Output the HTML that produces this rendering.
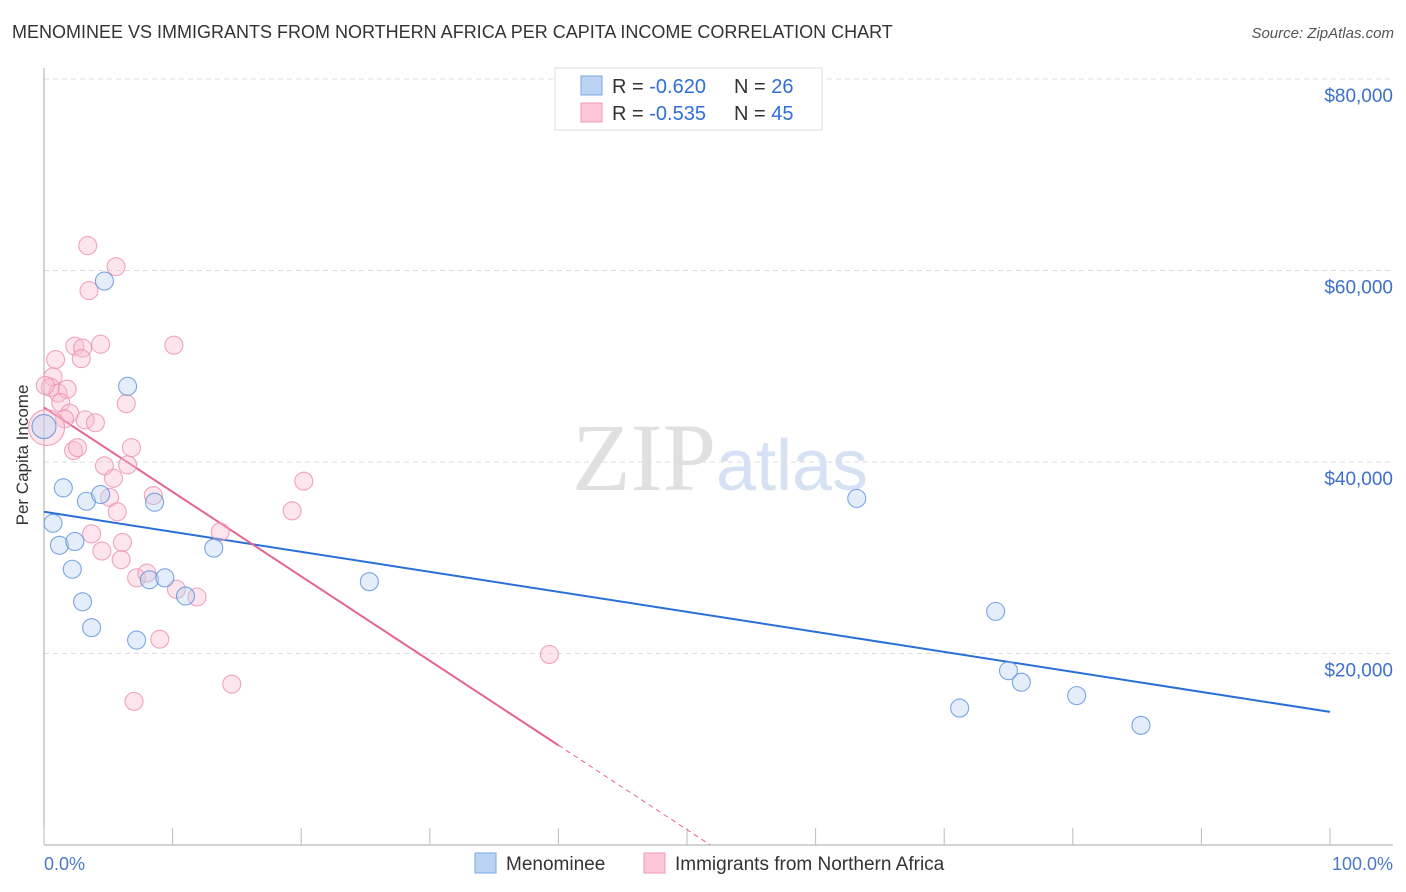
<!DOCTYPE html>
<html><head><meta charset="utf-8">
<style>
body{margin:0;background:#fff;font-family:"Liberation Sans",sans-serif;}
#wrap{position:relative;width:1406px;height:892px;overflow:hidden;}
.t{position:absolute;white-space:nowrap;}
</style></head>
<body>
<div id="wrap">
<div class="t" style="left:12px;top:22px;font-size:18px;color:#333;">MENOMINEE VS IMMIGRANTS FROM NORTHERN AFRICA PER CAPITA INCOME CORRELATION CHART</div>
<div class="t" style="right:12px;top:25px;font-size:15px;color:#555;font-style:italic;">Source: ZipAtlas.com</div>
<svg id="chart" width="1406" height="892" style="position:absolute;left:0;top:0">
<text x="720" y="490" text-anchor="middle" font-size="96" font-family="Liberation Serif,serif" fill="#e0e0e0"><tspan fill="#e0e0e0">ZIP</tspan><tspan font-family="Liberation Sans,sans-serif" font-size="72" fill="#d6e2f3">atlas</tspan></text>
<g id="grid"></g><g id="axes"></g><g id="lines"></g><g id="pts"></g>
<text x="28" y="455" transform="rotate(-90 28 455)" text-anchor="middle" font-size="17" fill="#333">Per Capita Income</text>
<text x="44" y="870" font-size="18" fill="#4a78c8">0.0%</text>
<text x="1393" y="870" text-anchor="end" font-size="18" fill="#4a78c8">100.0%</text>
<g>
<rect x="555" y="68" width="267" height="62" fill="#fff" stroke="#ddd"/>
<rect x="581" y="76" width="21" height="19" fill="#bcd4f4" stroke="#7aa6e0"/>
<rect x="581" y="103" width="21" height="19" fill="#fcc8d8" stroke="#ee9ab4"/>
<text x="612" y="93" font-size="20" fill="#333">R = <tspan fill="#2f6fd6">-0.620</tspan></text>
<text x="734" y="93" font-size="20" fill="#333">N = <tspan fill="#2f6fd6">26</tspan></text>
<text x="612" y="120" font-size="20" fill="#333">R = <tspan fill="#2f6fd6">-0.535</tspan></text>
<text x="734" y="120" font-size="20" fill="#333">N = <tspan fill="#2f6fd6">45</tspan></text>
</g>
<g>
<rect x="475" y="853" width="21" height="20" fill="#bcd4f4" stroke="#7aa6e0"/>
<text x="506" y="870" font-size="19" fill="#333">Menominee</text>
<rect x="644" y="853" width="21" height="20" fill="#fcc8d8" stroke="#ee9ab4"/>
<text x="675" y="870" font-size="19" fill="#333">Immigrants from Northern Africa</text>
</g>
</svg>
</div>
<script>
const yTicks=[20000,40000,60000,80000];
const yTickLabels=["$20,000","$40,000","$60,000","$80,000"];
const xTicks=[0,10,20,30,40,50,60,70,80,90,100];
const blueX=[4.7,6.5,0.0,1.5,3.3,4.4,8.6,0.7,1.2,2.4,13.2,2.2,3.0,3.7,7.2,8.2,9.4,11.0,25.3,63.2,74.0,75.0,76.0,71.2,80.3,85.3];
const blueY=[58900,47900,43700,37300,35900,36600,35800,33600,31300,31700,31000,28800,25400,22700,21400,27700,27900,26000,27500,36200,24400,18200,17000,14300,15600,12500];
const pinkX=[3.4,5.6,3.5,2.4,3.0,2.9,4.4,10.1,0.9,0.7,0.5,1.1,1.8,1.3,2.0,1.6,3.2,4.0,6.4,0.2,2.3,2.6,6.8,4.7,6.5,5.4,5.1,8.5,5.7,20.2,19.3,13.7,3.7,4.5,6.1,6.0,7.2,8.0,10.3,11.9,9.0,14.6,7.0,39.3,0.1];
const pinkY=[62600,60400,57900,52100,51900,50800,52300,52200,50700,48900,47800,47200,47600,46200,45100,44500,44400,44100,46100,43600,41200,41500,41500,39600,39700,38300,36300,36500,34800,38000,34900,32700,32500,30700,31600,29800,27900,28400,26700,25900,21500,16800,15000,19900,48000];
const blueTrend=[34800,13900];
const pinkTrend=[45700,-42500];
const pinkSolidEnd=40;

const NS="http://www.w3.org/2000/svg";
const X0=44,X1=1330,Y0=845,YPER=191.5/20000;
const sx=v=>X0+(X1-X0)*v/100;
const sy=v=>Y0-v*YPER;
function mk(tag,attrs,parent){const e=document.createElementNS(NS,tag);for(const k in attrs)e.setAttribute(k,attrs[k]);parent.appendChild(e);return e;}
const grid=document.getElementById('grid'),axes=document.getElementById('axes'),lines=document.getElementById('lines'),pts=document.getElementById('pts');
yTicks.forEach((t,i)=>{
  const l=mk('line',{x1:44,x2:1393,y1:sy(t),y2:sy(t),stroke:'#ddd','stroke-dasharray':'5,4'},grid);
  
  
  const tx=mk('text',{x:1393,y:sy(t)+23,'text-anchor':'end','font-size':19,fill:'#3d70cc'},grid);
  tx.textContent=yTickLabels[i];
  
  
});
const ya=mk('line',{x1:44,x2:44,y1:68,y2:845,stroke:'#aaa'},axes);


const xa=mk('line',{x1:44,x2:1393,y1:845,y2:845,stroke:'#aaa'},axes);


xTicks.forEach(t=>{
  const l=mk('line',{x1:sx(t),x2:sx(t),y1:828,y2:845,stroke:'#bbb'},axes);
  
  
});
function dot(x,y,r,fill,stroke,name){
  const c=mk('circle',{cx:sx(x),cy:sy(y),r:r,fill:fill,'fill-opacity':0.4,stroke:stroke,'stroke-opacity':0.8,'stroke-width':1.1},pts);
  
  
}
pinkX.forEach((x,i)=>dot(x,pinkY[i],i===19?18:9,'#f8bfd0','#ec8fae','point-immigrants'));
blueX.forEach((x,i)=>dot(x,blueY[i],i===2?12:9,'#bcd4f4','#5b8fdc','point-menominee'));
const bl=mk('line',{x1:sx(0),y1:sy(blueTrend[0]),x2:sx(100),y2:sy(blueTrend[1]),stroke:'#2a6fd6','stroke-width':2},lines);


const pv=x=>pinkTrend[0]+(pinkTrend[1]-pinkTrend[0])*x/100;
const zeroX=pinkTrend[0]/(pinkTrend[0]-pinkTrend[1])*100;
const pl=mk('line',{x1:sx(0),y1:sy(pv(0)),x2:sx(pinkSolidEnd),y2:sy(pv(pinkSolidEnd)),stroke:'#e5648e','stroke-width':2},lines);


const pd=mk('line',{x1:sx(pinkSolidEnd),y1:sy(pv(pinkSolidEnd)),x2:sx(zeroX),y2:sy(0),stroke:'#e5648e','stroke-width':1,'stroke-dasharray':'5,4'},lines);


</script>
</body></html>
